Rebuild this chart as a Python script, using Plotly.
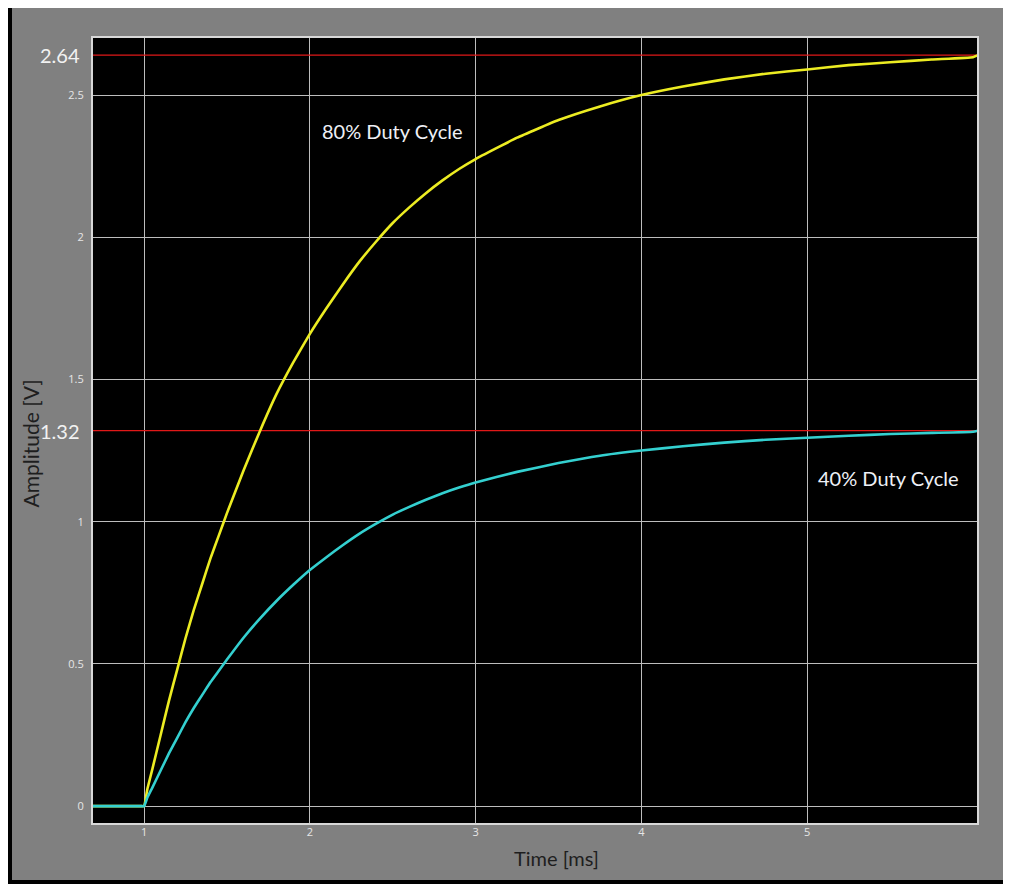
import plotly.graph_objects as go

# ---- data ----
time_ms = [0.69, 0.98, 1.0, 1.02, 1.05, 1.1, 1.15, 1.2, 1.25, 1.3, 1.35, 1.4, 1.45, 1.5, 1.6, 1.7,
           1.8, 1.9, 2.0, 2.1, 2.2, 2.3, 2.4, 2.5, 2.6, 2.7, 2.8, 2.9, 3.0, 3.25, 3.5, 3.75,
           4.0, 4.25, 4.5, 4.75, 5.0, 5.25, 5.5, 5.75, 6.0, 6.03]
duty80_v = [0.0, 0.0, 0.0, 0.06, 0.13, 0.25, 0.37, 0.48, 0.59, 0.69, 0.78, 0.87, 0.95, 1.03, 1.18,
            1.32, 1.45, 1.56, 1.66, 1.75, 1.835, 1.915, 1.985, 2.05, 2.105, 2.155, 2.20, 2.24, 2.275,
            2.35, 2.412, 2.46, 2.50, 2.53, 2.555, 2.575, 2.59, 2.605, 2.615, 2.625, 2.633, 2.64]
duty40_v = [0.0, 0.0, 0.0, 0.03, 0.065, 0.125, 0.185, 0.24, 0.295, 0.345, 0.39, 0.435, 0.475, 0.515,
            0.592, 0.66, 0.722, 0.778, 0.83, 0.875, 0.918, 0.958, 0.993, 1.025, 1.052, 1.077,
            1.10, 1.12, 1.138, 1.175, 1.206, 1.232, 1.25, 1.265, 1.278, 1.288, 1.295, 1.302, 1.308,
            1.312, 1.316, 1.32]

ref_levels = [2.64, 1.32]
ref_labels = ["2.64", "1.32"]
x_ticks = [1, 2, 3, 4, 5]
y_ticks = [0, 0.5, 1, 1.5, 2, 2.5]
y_tick_text = ["0", "0.5", "1", "1.5", "2", "2.5"]
x_range = [0.686, 6.03]
y_range = [-0.063, 2.704]

fig = go.Figure()

for lvl in ref_levels:
    fig.add_trace(go.Scatter(x=x_range, y=[lvl, lvl], mode="lines",
                             line=dict(color="#e01818", width=1.2),
                             showlegend=False, hoverinfo="skip"))

fig.add_trace(go.Scatter(x=time_ms, y=duty80_v, mode="lines", name="80% Duty Cycle",
                         line=dict(color="#ecec22", width=2.6, shape="spline", smoothing=0.35),
                         showlegend=False))
fig.add_trace(go.Scatter(x=time_ms, y=duty40_v, mode="lines", name="40% Duty Cycle",
                         line=dict(color="#34d0d0", width=2.6, shape="spline", smoothing=0.35),
                         showlegend=False))

font_main = "Lato, Open Sans, sans-serif"
annotations = [
    dict(x=2.5, y=2.373, xref="x", yref="y", text="80% Duty Cycle", showarrow=False,
         xanchor="center", font=dict(family=font_main, size=20, color="#eef0f6")),
    dict(x=5.49, y=1.155, xref="x", yref="y", text="40% Duty Cycle", showarrow=False,
         xanchor="center", font=dict(family=font_main, size=20, color="#eef0f6")),
]
for lvl, lab in zip(ref_levels, ref_labels):
    annotations.append(dict(x=0, y=lvl, xref="paper", yref="y", text=lab, showarrow=False,
                            xanchor="right", xshift=-10,
                            font=dict(family=font_main, size=20, color="#f2f2f2")))

pw, ph = 886, 787
annotations.append(dict(x=-(92 - 30) / pw, y=0.5 - 13 / ph, xref="paper", yref="paper",
                        text="Amplitude [V]", showarrow=False, textangle=-90,
                        xanchor="center", yanchor="middle",
                        font=dict(family=font_main, size=21, color="#1e1e1e")))
annotations.append(dict(x=(556 - 92) / pw, y=-(858 - 824) / ph, xref="paper", yref="paper",
                        text="Time [ms]", showarrow=False, xanchor="center", yanchor="middle",
                        font=dict(family=font_main, size=20, color="#1e1e1e")))

# the page body adds an 8 px offset, so the figure is 8 px smaller on each side
fig.update_layout(
    width=1003, height=876,
    margin=dict(l=84, r=33, t=29, b=60),
    paper_bgcolor="#808080",
    plot_bgcolor="#000000",
    annotations=annotations,
    shapes=[
        dict(type="rect", xref="paper", yref="paper",
             x0=-84 / pw, x1=(1003 - 84) / pw, y0=-60 / ph, y1=(876 - 29) / ph,
             line=dict(color="#000000", width=8), layer="above"),
        dict(type="rect", xref="paper", yref="paper", x0=0, x1=1, y0=0, y1=1,
             line=dict(color="#d8d8d8", width=2), layer="above"),
    ],
    xaxis=dict(range=x_range, tickvals=x_ticks, ticktext=[str(v) for v in x_ticks],
               showgrid=True, gridcolor="#bdbdbd", gridwidth=1, zeroline=False,
               showline=False, ticks="",
               tickfont=dict(family="Open Sans, sans-serif", size=11, color="#e6e6e6")),
    yaxis=dict(range=y_range, tickvals=y_ticks, ticktext=y_tick_text,
               showgrid=True, gridcolor="#bdbdbd", gridwidth=1, zeroline=False,
               showline=False, ticks="outside", ticklen=5, tickcolor="rgba(0,0,0,0)",
               tickfont=dict(family="Open Sans, sans-serif", size=11, color="#e6e6e6")),
)

fig.write_html("out.html")
